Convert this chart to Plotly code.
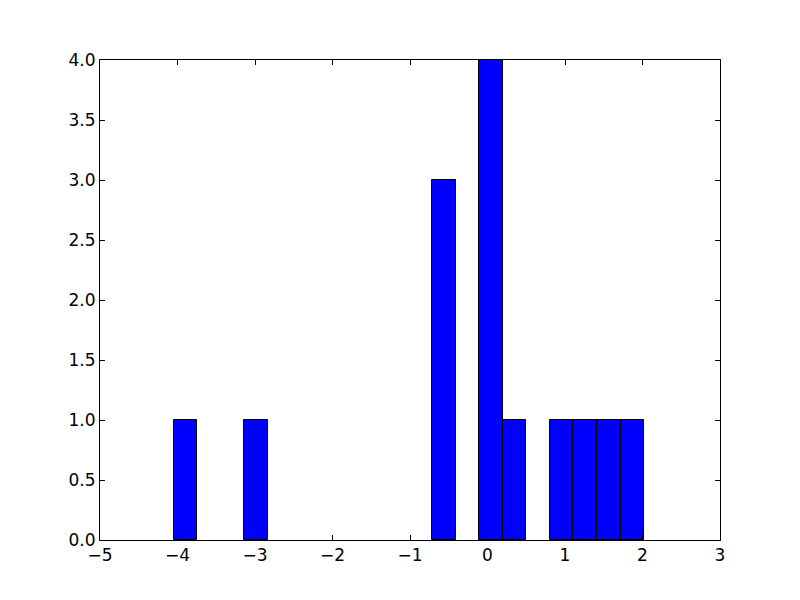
import plotly.graph_objects as go

# histogram: 20 bins between min and max of the data
bin_start = -4.05
bin_width = 0.3035
counts = [1, 0, 0, 1, 0, 0, 0, 0, 0, 0, 0, 3, 0, 4, 1, 0, 1, 1, 1, 1]
centers = [bin_start + bin_width * (i + 0.5) for i in range(len(counts))]

x_ticks = [-5, -4, -3, -2, -1, 0, 1, 2, 3]
y_ticks = [0.0, 0.5, 1.0, 1.5, 2.0, 2.5, 3.0, 3.5, 4.0]

# empty bins draw nothing
bar_x = [c for c, n in zip(centers, counts) if n > 0]
bar_y = [n for n in counts if n > 0]

fig = go.Figure(go.Bar(
    x=bar_x, y=bar_y, width=bin_width,
    marker=dict(color="#0000ff", line=dict(color="black", width=1)),
))

axis_common = dict(
    showgrid=False, zeroline=False, showline=True, linecolor="black", linewidth=1,
    mirror="ticks", ticks="inside", ticklen=5, tickwidth=1, tickcolor="black",
    tickfont=dict(family="DejaVu Sans", size=17, color="black"),
)

fig.update_layout(
    width=800, height=600,
    margin=dict(l=92, r=88, t=52, b=68),
    paper_bgcolor="white", plot_bgcolor="white",
    showlegend=False, bargap=0,
    xaxis=dict(range=[-5, 3], tickvals=x_ticks, **axis_common),
    yaxis=dict(range=[0, 4], tickvals=y_ticks, tickformat=".1f", **axis_common),
)

fig.write_html("out.html")
